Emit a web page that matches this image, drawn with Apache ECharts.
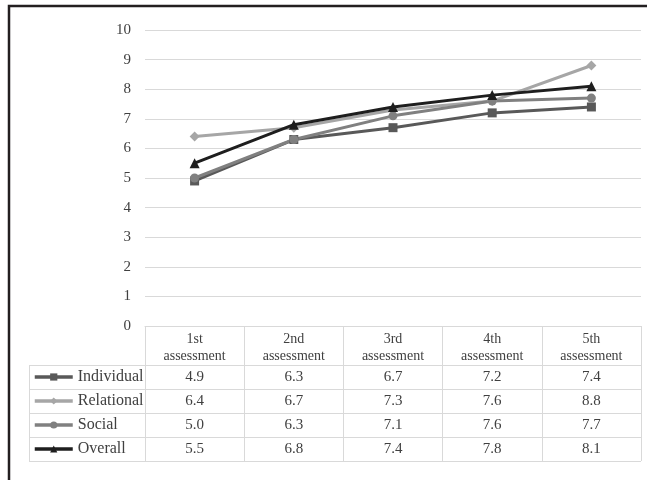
<!DOCTYPE html>
<html>
<head>
<meta charset="utf-8">
<script src="https://cdn.jsdelivr.net/npm/echarts@6/dist/echarts.min.js"></script>
<style>
html,body{margin:0;padding:0;background:#fff;}
#main{width:647px;height:480px;}
</style>
</head>
<body>
<div id="main"></div>
<script>
var categories = ['1st assessment', '2nd assessment', '3rd assessment', '4th assessment', '5th assessment'];
var individual = [4.9, 6.3, 6.7, 7.2, 7.4];
var relational = [6.4, 6.7, 7.3, 7.6, 8.8];
var social = [5.0, 6.3, 7.1, 7.6, 7.7];
var overall = [5.5, 6.8, 7.4, 7.8, 8.1];
var seriesNames = ['Individual', 'Relational', 'Social', 'Overall'];
var yTicks = [0, 1, 2, 3, 4, 5, 6, 7, 8, 9, 10];

var seriesData = [individual, relational, social, overall];
var colors = ['#595959', '#a6a6a6', '#808080', '#1e1e1e'];
var symbols = ['rect', 'diamond', 'circle', 'triangle'];
var FONT = 'Liberation Serif';
var TXT = '#404040';
var GRID_C = '#d9d9d9';

var chart = echarts.init(document.getElementById('main'));

var gridTop = 30, gridBottomY = 326, gridLeft = 145, gridRight = 641;
var headerH = 39, rowH = 24, tableLeft = 29;

var xAxes = [{
  type: 'category',
  data: categories,
  position: 'bottom',
  boundaryGap: true,
  axisLine: {show: true, lineStyle: {color: GRID_C, width: 1}},
  axisTick: {show: true, length: headerH + rowH * 4, lineStyle: {color: GRID_C, width: 1}},
  axisLabel: {
    margin: 5, color: TXT, fontFamily: FONT, fontSize: 14, lineHeight: 17,
    formatter: function (v) { return v.replace(' ', '\n'); }
  }
}];
seriesData.forEach(function (arr, i) {
  xAxes.push({
    type: 'category',
    data: arr.map(function (v) { return v.toFixed(1); }),
    position: 'bottom',
    offset: headerH + rowH * i + rowH / 2,
    boundaryGap: true,
    axisLine: {show: false},
    axisTick: {show: false},
    axisLabel: {margin: 0, verticalAlign: 'middle', color: TXT, fontFamily: FONT, fontSize: 15}
  });
});

var series = seriesData.map(function (arr, i) {
  return {
    name: seriesNames[i],
    type: 'line',
    data: arr,
    xAxisIndex: 0,
    symbol: symbols[i],
    symbolSize: symbols[i] === 'diamond' ? 10 : (symbols[i] === 'triangle' ? 10 : 9),
    showSymbol: true,
    lineStyle: {color: colors[i], width: 3},
    itemStyle: {color: colors[i]},
    z: i === 3 ? 5 : 3,
    animation: false
  };
});

var graphics = [];
for (var r = 0; r <= 4; r++) {
  var yy = gridBottomY + headerH + rowH * r + 0.5;
  graphics.push({type: 'line', shape: {x1: tableLeft, y1: yy, x2: gridRight, y2: yy}, style: {stroke: GRID_C, lineWidth: 1}, silent: true});
}
graphics.push({type: 'line', shape: {x1: tableLeft + 0.5, y1: gridBottomY + headerH, x2: tableLeft + 0.5, y2: gridBottomY + headerH + rowH * 4}, style: {stroke: GRID_C, lineWidth: 1}, silent: true});
graphics.push({type: 'polyline', shape: {points: [[9, 480], [9, 6], [647, 6]]}, style: {stroke: '#231f20', lineWidth: 2.5, fill: null}, silent: true});

chart.setOption({
  animation: false,
  backgroundColor: '#ffffff',
  grid: {left: gridLeft, top: gridTop, width: gridRight - gridLeft, height: gridBottomY - gridTop, containLabel: false},
  xAxis: xAxes,
  yAxis: {
    type: 'value',
    min: yTicks[0], max: yTicks[yTicks.length - 1], interval: 1,
    axisLine: {show: false}, axisTick: {show: false},
    splitLine: {show: true, lineStyle: {color: GRID_C, width: 1}},
    axisLabel: {margin: 14, color: TXT, fontFamily: FONT, fontSize: 15}
  },
  legend: {
    orient: 'vertical',
    left: 33, top: gridBottomY + headerH + rowH / 2 - 8,
    padding: 0,
    itemWidth: 38, itemHeight: 9, itemGap: 8,
    data: seriesNames,
    lineStyle: {width: 3.5},
    textStyle: {color: TXT, fontFamily: FONT, fontSize: 16, lineHeight: 16},
    selectedMode: false
  },
  series: series,
  graphic: graphics
});
</script>
</body>
</html>
